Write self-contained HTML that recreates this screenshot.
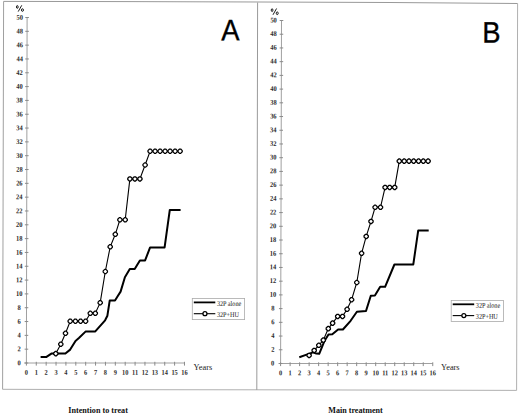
<!DOCTYPE html>
<html><head><meta charset="utf-8"><title>Figure</title>
<style>
html,body{margin:0;padding:0;background:#fff;}
body{width:520px;height:415px;overflow:hidden;}
svg{display:block;}
.frame{fill:none;stroke:#9a9a9a;stroke-width:1;}
.ax{stroke:#a0a0a0;stroke-width:1;}
.tk{stroke:#8a8a8a;stroke-width:1;}
.yl{font-family:"Liberation Serif", serif;font-weight:bold;font-size:7.2px;text-anchor:middle;fill:#2a2a2a;}
.xl{font-family:"Liberation Serif", serif;font-weight:bold;font-size:7.2px;text-anchor:middle;fill:#2a2a2a;}
.yrs{font-family:"Liberation Serif", serif;font-size:9px;fill:#222;}
.pct{fill:none;stroke:#111;stroke-width:0.95;}
.let{font-family:"Liberation Sans", sans-serif;font-size:29.5px;fill:#000;stroke:#000;stroke-width:0.35;}
.thick{fill:none;stroke:#000;stroke-width:2;stroke-linejoin:round;}
.lthick{stroke:#000;stroke-width:1.8;}
.thin{fill:none;stroke:#000;stroke-width:1.1;}
.mk{fill:#fff;stroke:#000;stroke-width:1.25;stroke-linejoin:round;}
.lg{fill:none;stroke:#aaa;stroke-width:0.8;}
.lt{font-family:"Liberation Serif", serif;font-size:7.2px;fill:#111;}
.cap{font-family:"Liberation Serif", serif;font-weight:bold;font-size:9px;fill:#111;}
</style></head>
<body>
<svg width="520" height="415" viewBox="0 0 520 415">
<rect x="0" y="0" width="520" height="415" fill="#fff"/>
<polyline points="3.6,1.4 130,1.6 260,2 390,2.5 517.6,3.5" class="frame" style="stroke:#999"/>
<polyline points="2.6,389.3 120,389.7 260,389.8 516.6,390.4" class="frame" style="stroke:#b0b0b0"/>
<line x1="3.6" y1="1.4" x2="2.6" y2="389.3" class="frame" style="stroke:#a0a0a0"/>
<line x1="517.6" y1="3.5" x2="516.6" y2="390.4" class="frame" style="stroke:#b0b0b0"/>
<line x1="257.6" y1="2.5" x2="256.8" y2="389.9" class="frame"/>
<line x1="27.1" y1="17.5" x2="26.4" y2="363" class="ax"/>
<line x1="24.4" y1="363" x2="184.48" y2="363" class="ax"/>
<line x1="24.6" y1="363" x2="28.2" y2="363" class="tk"/>
<text transform="translate(19 365.2) rotate(0.2) scale(0.9 1)" class="yl">0</text>
<line x1="24.63" y1="349.18" x2="28.23" y2="349.18" class="tk"/>
<text transform="translate(19.03 351.38) rotate(0.2) scale(0.9 1)" class="yl">2</text>
<line x1="24.66" y1="335.36" x2="28.26" y2="335.36" class="tk"/>
<text transform="translate(19.06 337.56) rotate(0.2) scale(0.9 1)" class="yl">4</text>
<line x1="24.68" y1="321.54" x2="28.28" y2="321.54" class="tk"/>
<text transform="translate(19.08 323.74) rotate(0.2) scale(0.9 1)" class="yl">6</text>
<line x1="24.71" y1="307.72" x2="28.31" y2="307.72" class="tk"/>
<text transform="translate(19.11 309.92) rotate(0.2) scale(0.9 1)" class="yl">8</text>
<line x1="24.74" y1="293.9" x2="28.34" y2="293.9" class="tk"/>
<text transform="translate(19.14 296.1) rotate(0.2) scale(0.9 1)" class="yl">10</text>
<line x1="24.77" y1="280.08" x2="28.37" y2="280.08" class="tk"/>
<text transform="translate(19.17 282.28) rotate(0.2) scale(0.9 1)" class="yl">12</text>
<line x1="24.8" y1="266.26" x2="28.4" y2="266.26" class="tk"/>
<text transform="translate(19.2 268.46) rotate(0.2) scale(0.9 1)" class="yl">14</text>
<line x1="24.82" y1="252.44" x2="28.42" y2="252.44" class="tk"/>
<text transform="translate(19.22 254.64) rotate(0.2) scale(0.9 1)" class="yl">16</text>
<line x1="24.85" y1="238.62" x2="28.45" y2="238.62" class="tk"/>
<text transform="translate(19.25 240.82) rotate(0.2) scale(0.9 1)" class="yl">18</text>
<line x1="24.88" y1="224.8" x2="28.48" y2="224.8" class="tk"/>
<text transform="translate(19.28 227) rotate(0.2) scale(0.9 1)" class="yl">20</text>
<line x1="24.91" y1="210.98" x2="28.51" y2="210.98" class="tk"/>
<text transform="translate(19.31 213.18) rotate(0.2) scale(0.9 1)" class="yl">22</text>
<line x1="24.94" y1="197.16" x2="28.54" y2="197.16" class="tk"/>
<text transform="translate(19.34 199.36) rotate(0.2) scale(0.9 1)" class="yl">24</text>
<line x1="24.96" y1="183.34" x2="28.56" y2="183.34" class="tk"/>
<text transform="translate(19.36 185.54) rotate(0.2) scale(0.9 1)" class="yl">26</text>
<line x1="24.99" y1="169.52" x2="28.59" y2="169.52" class="tk"/>
<text transform="translate(19.39 171.72) rotate(0.2) scale(0.9 1)" class="yl">28</text>
<line x1="25.02" y1="155.7" x2="28.62" y2="155.7" class="tk"/>
<text transform="translate(19.42 157.9) rotate(0.2) scale(0.9 1)" class="yl">30</text>
<line x1="25.05" y1="141.88" x2="28.65" y2="141.88" class="tk"/>
<text transform="translate(19.45 144.08) rotate(0.2) scale(0.9 1)" class="yl">32</text>
<line x1="25.08" y1="128.06" x2="28.68" y2="128.06" class="tk"/>
<text transform="translate(19.48 130.26) rotate(0.2) scale(0.9 1)" class="yl">34</text>
<line x1="25.1" y1="114.24" x2="28.7" y2="114.24" class="tk"/>
<text transform="translate(19.5 116.44) rotate(0.2) scale(0.9 1)" class="yl">36</text>
<line x1="25.13" y1="100.42" x2="28.73" y2="100.42" class="tk"/>
<text transform="translate(19.53 102.62) rotate(0.2) scale(0.9 1)" class="yl">38</text>
<line x1="25.16" y1="86.6" x2="28.76" y2="86.6" class="tk"/>
<text transform="translate(19.56 88.8) rotate(0.2) scale(0.9 1)" class="yl">40</text>
<line x1="25.19" y1="72.78" x2="28.79" y2="72.78" class="tk"/>
<text transform="translate(19.59 74.98) rotate(0.2) scale(0.9 1)" class="yl">42</text>
<line x1="25.22" y1="58.96" x2="28.82" y2="58.96" class="tk"/>
<text transform="translate(19.62 61.16) rotate(0.2) scale(0.9 1)" class="yl">44</text>
<line x1="25.24" y1="45.14" x2="28.84" y2="45.14" class="tk"/>
<text transform="translate(19.64 47.34) rotate(0.2) scale(0.9 1)" class="yl">46</text>
<line x1="25.27" y1="31.32" x2="28.87" y2="31.32" class="tk"/>
<text transform="translate(19.67 33.52) rotate(0.2) scale(0.9 1)" class="yl">48</text>
<line x1="25.3" y1="17.5" x2="28.9" y2="17.5" class="tk"/>
<text transform="translate(19.7 19.7) rotate(0.2) scale(0.9 1)" class="yl">50</text>
<line x1="26.4" y1="361.8" x2="26.4" y2="365.6" class="tk"/>
<text transform="translate(26.4 374.7) rotate(0.2) scale(0.88 1)" class="xl">0</text>
<line x1="36.28" y1="361.8" x2="36.28" y2="365.6" class="tk"/>
<text transform="translate(36.28 374.7) rotate(0.2) scale(0.88 1)" class="xl">1</text>
<line x1="46.16" y1="361.8" x2="46.16" y2="365.6" class="tk"/>
<text transform="translate(46.16 374.7) rotate(0.2) scale(0.88 1)" class="xl">2</text>
<line x1="56.04" y1="361.8" x2="56.04" y2="365.6" class="tk"/>
<text transform="translate(56.04 374.7) rotate(0.2) scale(0.88 1)" class="xl">3</text>
<line x1="65.92" y1="361.8" x2="65.92" y2="365.6" class="tk"/>
<text transform="translate(65.92 374.7) rotate(0.2) scale(0.88 1)" class="xl">4</text>
<line x1="75.8" y1="361.8" x2="75.8" y2="365.6" class="tk"/>
<text transform="translate(75.8 374.7) rotate(0.2) scale(0.88 1)" class="xl">5</text>
<line x1="85.68" y1="361.8" x2="85.68" y2="365.6" class="tk"/>
<text transform="translate(85.68 374.7) rotate(0.2) scale(0.88 1)" class="xl">6</text>
<line x1="95.56" y1="361.8" x2="95.56" y2="365.6" class="tk"/>
<text transform="translate(95.56 374.7) rotate(0.2) scale(0.88 1)" class="xl">7</text>
<line x1="105.44" y1="361.8" x2="105.44" y2="365.6" class="tk"/>
<text transform="translate(105.44 374.7) rotate(0.2) scale(0.88 1)" class="xl">8</text>
<line x1="115.32" y1="361.8" x2="115.32" y2="365.6" class="tk"/>
<text transform="translate(115.32 374.7) rotate(0.2) scale(0.88 1)" class="xl">9</text>
<line x1="125.2" y1="361.8" x2="125.2" y2="365.6" class="tk"/>
<text transform="translate(125.2 374.7) rotate(0.2) scale(0.88 1)" class="xl">10</text>
<line x1="135.08" y1="361.8" x2="135.08" y2="365.6" class="tk"/>
<text transform="translate(135.08 374.7) rotate(0.2) scale(0.88 1)" class="xl">11</text>
<line x1="144.96" y1="361.8" x2="144.96" y2="365.6" class="tk"/>
<text transform="translate(144.96 374.7) rotate(0.2) scale(0.88 1)" class="xl">12</text>
<line x1="154.84" y1="361.8" x2="154.84" y2="365.6" class="tk"/>
<text transform="translate(154.84 374.7) rotate(0.2) scale(0.88 1)" class="xl">13</text>
<line x1="164.72" y1="361.8" x2="164.72" y2="365.6" class="tk"/>
<text transform="translate(164.72 374.7) rotate(0.2) scale(0.88 1)" class="xl">14</text>
<line x1="174.6" y1="361.8" x2="174.6" y2="365.6" class="tk"/>
<text transform="translate(174.6 374.7) rotate(0.2) scale(0.88 1)" class="xl">15</text>
<line x1="184.48" y1="361.8" x2="184.48" y2="365.6" class="tk"/>
<text transform="translate(184.48 374.7) rotate(0.2) scale(0.88 1)" class="xl">16</text>
<text x="193.6" y="369.8" class="yrs" textLength="18.6" lengthAdjust="spacingAndGlyphs">Years</text>
<g transform="translate(16.1 5.1)" class="pct"><ellipse cx="1.2" cy="1.85" rx="0.85" ry="1.4"/><ellipse cx="6.35" cy="4.95" rx="1.0" ry="1.3"/><line x1="5.65" y1="0.2" x2="2.1" y2="6.5"/></g>
<text transform="translate(221.3 40.3) rotate(0.2) scale(0.93 1)" class="let">A</text>
<polyline points="40.6,356.9 46.5,356.9 51.4,353.6 65.4,353.5 70.2,349.6 75.5,340.9 78.9,338 85.5,331.6 95.3,331.4 105.1,320.3 107.4,315.7 109.7,300.6 115,300.5 117.8,296 120.6,291.6 124.9,277.2 129.8,269.1 134.7,269.1 139.9,260.4 145.1,260.4 150.1,247.4 164.6,247.4 169.8,209.9 180.6,209.9" class="thick"/>
<polyline points="55.8,353.6 60.8,344.2 65.5,333.3 70.2,321.2 75.4,321.2 80.6,321.2 85.6,321.2 90.3,313.3 95.3,313.3 100.2,302.7 105.3,271.5 110.2,246.8 115.3,234.3 119.9,219.8 125.2,219.8 129.9,178.9 134.9,178.9 139.9,178.9 145.1,165 150.1,151.2 155.1,151.2 160.1,151.2 165.1,151.2 170.1,151.2 175.1,151.2 180.1,151.2" class="thin"/>
<path d="M55.2 351.45L56.4 351.45L57.95 353L57.95 354.2L56.4 355.75L55.2 355.75L53.65 354.2L53.65 353Z" class="mk"/>
<path d="M60.2 342.05L61.4 342.05L62.95 343.6L62.95 344.8L61.4 346.35L60.2 346.35L58.65 344.8L58.65 343.6Z" class="mk"/>
<path d="M64.9 331.15L66.1 331.15L67.65 332.7L67.65 333.9L66.1 335.45L64.9 335.45L63.35 333.9L63.35 332.7Z" class="mk"/>
<path d="M69.6 319.05L70.8 319.05L72.35 320.6L72.35 321.8L70.8 323.35L69.6 323.35L68.05 321.8L68.05 320.6Z" class="mk"/>
<path d="M74.8 319.05L76 319.05L77.55 320.6L77.55 321.8L76 323.35L74.8 323.35L73.25 321.8L73.25 320.6Z" class="mk"/>
<path d="M80 319.05L81.2 319.05L82.75 320.6L82.75 321.8L81.2 323.35L80 323.35L78.45 321.8L78.45 320.6Z" class="mk"/>
<path d="M85 319.05L86.2 319.05L87.75 320.6L87.75 321.8L86.2 323.35L85 323.35L83.45 321.8L83.45 320.6Z" class="mk"/>
<path d="M89.7 311.15L90.9 311.15L92.45 312.7L92.45 313.9L90.9 315.45L89.7 315.45L88.15 313.9L88.15 312.7Z" class="mk"/>
<path d="M94.7 311.15L95.9 311.15L97.45 312.7L97.45 313.9L95.9 315.45L94.7 315.45L93.15 313.9L93.15 312.7Z" class="mk"/>
<path d="M99.6 300.55L100.8 300.55L102.35 302.1L102.35 303.3L100.8 304.85L99.6 304.85L98.05 303.3L98.05 302.1Z" class="mk"/>
<path d="M104.7 269.35L105.9 269.35L107.45 270.9L107.45 272.1L105.9 273.65L104.7 273.65L103.15 272.1L103.15 270.9Z" class="mk"/>
<path d="M109.6 244.65L110.8 244.65L112.35 246.2L112.35 247.4L110.8 248.95L109.6 248.95L108.05 247.4L108.05 246.2Z" class="mk"/>
<path d="M114.7 232.15L115.9 232.15L117.45 233.7L117.45 234.9L115.9 236.45L114.7 236.45L113.15 234.9L113.15 233.7Z" class="mk"/>
<path d="M119.3 217.65L120.5 217.65L122.05 219.2L122.05 220.4L120.5 221.95L119.3 221.95L117.75 220.4L117.75 219.2Z" class="mk"/>
<path d="M124.6 217.65L125.8 217.65L127.35 219.2L127.35 220.4L125.8 221.95L124.6 221.95L123.05 220.4L123.05 219.2Z" class="mk"/>
<path d="M129.3 176.75L130.5 176.75L132.05 178.3L132.05 179.5L130.5 181.05L129.3 181.05L127.75 179.5L127.75 178.3Z" class="mk"/>
<path d="M134.3 176.75L135.5 176.75L137.05 178.3L137.05 179.5L135.5 181.05L134.3 181.05L132.75 179.5L132.75 178.3Z" class="mk"/>
<path d="M139.3 176.75L140.5 176.75L142.05 178.3L142.05 179.5L140.5 181.05L139.3 181.05L137.75 179.5L137.75 178.3Z" class="mk"/>
<path d="M144.5 162.85L145.7 162.85L147.25 164.4L147.25 165.6L145.7 167.15L144.5 167.15L142.95 165.6L142.95 164.4Z" class="mk"/>
<path d="M149.5 149.05L150.7 149.05L152.25 150.6L152.25 151.8L150.7 153.35L149.5 153.35L147.95 151.8L147.95 150.6Z" class="mk"/>
<path d="M154.5 149.05L155.7 149.05L157.25 150.6L157.25 151.8L155.7 153.35L154.5 153.35L152.95 151.8L152.95 150.6Z" class="mk"/>
<path d="M159.5 149.05L160.7 149.05L162.25 150.6L162.25 151.8L160.7 153.35L159.5 153.35L157.95 151.8L157.95 150.6Z" class="mk"/>
<path d="M164.5 149.05L165.7 149.05L167.25 150.6L167.25 151.8L165.7 153.35L164.5 153.35L162.95 151.8L162.95 150.6Z" class="mk"/>
<path d="M169.5 149.05L170.7 149.05L172.25 150.6L172.25 151.8L170.7 153.35L169.5 153.35L167.95 151.8L167.95 150.6Z" class="mk"/>
<path d="M174.5 149.05L175.7 149.05L177.25 150.6L177.25 151.8L175.7 153.35L174.5 153.35L172.95 151.8L172.95 150.6Z" class="mk"/>
<path d="M179.5 149.05L180.7 149.05L182.25 150.6L182.25 151.8L180.7 153.35L179.5 153.35L177.95 151.8L177.95 150.6Z" class="mk"/>
<rect x="192.3" y="298.5" width="52.3" height="21.1" class="lg"/>
<line x1="193.8" y1="302.4" x2="215.3" y2="302.4" class="lthick"/>
<line x1="193.8" y1="313.7" x2="215.3" y2="313.7" class="thin"/>
<circle cx="204.95" cy="313.7" r="2.0" class="mk"/>
<text transform="translate(216.9 305.9) rotate(0.2) scale(0.86 1)" class="lt">32P alone</text>
<text transform="translate(216.9 316.9) rotate(0.2) scale(0.86 1)" class="lt">32P+HU</text>
<text x="68.3" y="413.4" class="cap" textLength="59.6" lengthAdjust="spacingAndGlyphs">Intention to treat</text>
<line x1="281.5" y1="20.5" x2="280.6" y2="363.5" class="ax"/>
<line x1="278.6" y1="363.5" x2="432.76" y2="363.5" class="ax"/>
<line x1="278.8" y1="363.5" x2="282.4" y2="363.5" class="tk"/>
<text transform="translate(272.7 365.4) rotate(0.2) scale(0.9 1)" class="yl">0</text>
<line x1="278.84" y1="349.78" x2="282.44" y2="349.78" class="tk"/>
<text transform="translate(272.74 351.68) rotate(0.2) scale(0.9 1)" class="yl">2</text>
<line x1="278.87" y1="336.06" x2="282.47" y2="336.06" class="tk"/>
<text transform="translate(272.77 337.96) rotate(0.2) scale(0.9 1)" class="yl">4</text>
<line x1="278.91" y1="322.34" x2="282.51" y2="322.34" class="tk"/>
<text transform="translate(272.81 324.24) rotate(0.2) scale(0.9 1)" class="yl">6</text>
<line x1="278.94" y1="308.62" x2="282.54" y2="308.62" class="tk"/>
<text transform="translate(272.84 310.52) rotate(0.2) scale(0.9 1)" class="yl">8</text>
<line x1="278.98" y1="294.9" x2="282.58" y2="294.9" class="tk"/>
<text transform="translate(272.88 296.8) rotate(0.2) scale(0.9 1)" class="yl">10</text>
<line x1="279.02" y1="281.18" x2="282.62" y2="281.18" class="tk"/>
<text transform="translate(272.92 283.08) rotate(0.2) scale(0.9 1)" class="yl">12</text>
<line x1="279.05" y1="267.46" x2="282.65" y2="267.46" class="tk"/>
<text transform="translate(272.95 269.36) rotate(0.2) scale(0.9 1)" class="yl">14</text>
<line x1="279.09" y1="253.74" x2="282.69" y2="253.74" class="tk"/>
<text transform="translate(272.99 255.64) rotate(0.2) scale(0.9 1)" class="yl">16</text>
<line x1="279.12" y1="240.02" x2="282.72" y2="240.02" class="tk"/>
<text transform="translate(273.02 241.92) rotate(0.2) scale(0.9 1)" class="yl">18</text>
<line x1="279.16" y1="226.3" x2="282.76" y2="226.3" class="tk"/>
<text transform="translate(273.06 228.2) rotate(0.2) scale(0.9 1)" class="yl">20</text>
<line x1="279.2" y1="212.58" x2="282.8" y2="212.58" class="tk"/>
<text transform="translate(273.1 214.48) rotate(0.2) scale(0.9 1)" class="yl">22</text>
<line x1="279.23" y1="198.86" x2="282.83" y2="198.86" class="tk"/>
<text transform="translate(273.13 200.76) rotate(0.2) scale(0.9 1)" class="yl">24</text>
<line x1="279.27" y1="185.14" x2="282.87" y2="185.14" class="tk"/>
<text transform="translate(273.17 187.04) rotate(0.2) scale(0.9 1)" class="yl">26</text>
<line x1="279.3" y1="171.42" x2="282.9" y2="171.42" class="tk"/>
<text transform="translate(273.2 173.32) rotate(0.2) scale(0.9 1)" class="yl">28</text>
<line x1="279.34" y1="157.7" x2="282.94" y2="157.7" class="tk"/>
<text transform="translate(273.24 159.6) rotate(0.2) scale(0.9 1)" class="yl">30</text>
<line x1="279.38" y1="143.98" x2="282.98" y2="143.98" class="tk"/>
<text transform="translate(273.28 145.88) rotate(0.2) scale(0.9 1)" class="yl">32</text>
<line x1="279.41" y1="130.26" x2="283.01" y2="130.26" class="tk"/>
<text transform="translate(273.31 132.16) rotate(0.2) scale(0.9 1)" class="yl">34</text>
<line x1="279.45" y1="116.54" x2="283.05" y2="116.54" class="tk"/>
<text transform="translate(273.35 118.44) rotate(0.2) scale(0.9 1)" class="yl">36</text>
<line x1="279.48" y1="102.82" x2="283.08" y2="102.82" class="tk"/>
<text transform="translate(273.38 104.72) rotate(0.2) scale(0.9 1)" class="yl">38</text>
<line x1="279.52" y1="89.1" x2="283.12" y2="89.1" class="tk"/>
<text transform="translate(273.42 91) rotate(0.2) scale(0.9 1)" class="yl">40</text>
<line x1="279.56" y1="75.38" x2="283.16" y2="75.38" class="tk"/>
<text transform="translate(273.46 77.28) rotate(0.2) scale(0.9 1)" class="yl">42</text>
<line x1="279.59" y1="61.66" x2="283.19" y2="61.66" class="tk"/>
<text transform="translate(273.49 63.56) rotate(0.2) scale(0.9 1)" class="yl">44</text>
<line x1="279.63" y1="47.94" x2="283.23" y2="47.94" class="tk"/>
<text transform="translate(273.53 49.84) rotate(0.2) scale(0.9 1)" class="yl">46</text>
<line x1="279.66" y1="34.22" x2="283.26" y2="34.22" class="tk"/>
<text transform="translate(273.56 36.12) rotate(0.2) scale(0.9 1)" class="yl">48</text>
<line x1="279.7" y1="20.5" x2="283.3" y2="20.5" class="tk"/>
<text transform="translate(273.6 22.4) rotate(0.2) scale(0.9 1)" class="yl">50</text>
<line x1="280.6" y1="362.3" x2="280.6" y2="366.1" class="tk"/>
<text transform="translate(280.6 375.2) rotate(0.2) scale(0.88 1)" class="xl">0</text>
<line x1="290.11" y1="362.3" x2="290.11" y2="366.1" class="tk"/>
<text transform="translate(290.11 375.2) rotate(0.2) scale(0.88 1)" class="xl">1</text>
<line x1="299.62" y1="362.3" x2="299.62" y2="366.1" class="tk"/>
<text transform="translate(299.62 375.2) rotate(0.2) scale(0.88 1)" class="xl">2</text>
<line x1="309.13" y1="362.3" x2="309.13" y2="366.1" class="tk"/>
<text transform="translate(309.13 375.2) rotate(0.2) scale(0.88 1)" class="xl">3</text>
<line x1="318.64" y1="362.3" x2="318.64" y2="366.1" class="tk"/>
<text transform="translate(318.64 375.2) rotate(0.2) scale(0.88 1)" class="xl">4</text>
<line x1="328.15" y1="362.3" x2="328.15" y2="366.1" class="tk"/>
<text transform="translate(328.15 375.2) rotate(0.2) scale(0.88 1)" class="xl">5</text>
<line x1="337.66" y1="362.3" x2="337.66" y2="366.1" class="tk"/>
<text transform="translate(337.66 375.2) rotate(0.2) scale(0.88 1)" class="xl">6</text>
<line x1="347.17" y1="362.3" x2="347.17" y2="366.1" class="tk"/>
<text transform="translate(347.17 375.2) rotate(0.2) scale(0.88 1)" class="xl">7</text>
<line x1="356.68" y1="362.3" x2="356.68" y2="366.1" class="tk"/>
<text transform="translate(356.68 375.2) rotate(0.2) scale(0.88 1)" class="xl">8</text>
<line x1="366.19" y1="362.3" x2="366.19" y2="366.1" class="tk"/>
<text transform="translate(366.19 375.2) rotate(0.2) scale(0.88 1)" class="xl">9</text>
<line x1="375.7" y1="362.3" x2="375.7" y2="366.1" class="tk"/>
<text transform="translate(375.7 375.2) rotate(0.2) scale(0.88 1)" class="xl">10</text>
<line x1="385.21" y1="362.3" x2="385.21" y2="366.1" class="tk"/>
<text transform="translate(385.21 375.2) rotate(0.2) scale(0.88 1)" class="xl">11</text>
<line x1="394.72" y1="362.3" x2="394.72" y2="366.1" class="tk"/>
<text transform="translate(394.72 375.2) rotate(0.2) scale(0.88 1)" class="xl">12</text>
<line x1="404.23" y1="362.3" x2="404.23" y2="366.1" class="tk"/>
<text transform="translate(404.23 375.2) rotate(0.2) scale(0.88 1)" class="xl">13</text>
<line x1="413.74" y1="362.3" x2="413.74" y2="366.1" class="tk"/>
<text transform="translate(413.74 375.2) rotate(0.2) scale(0.88 1)" class="xl">14</text>
<line x1="423.25" y1="362.3" x2="423.25" y2="366.1" class="tk"/>
<text transform="translate(423.25 375.2) rotate(0.2) scale(0.88 1)" class="xl">15</text>
<line x1="432.76" y1="362.3" x2="432.76" y2="366.1" class="tk"/>
<text transform="translate(432.76 375.2) rotate(0.2) scale(0.88 1)" class="xl">16</text>
<text x="441" y="370.4" class="yrs" textLength="18.6" lengthAdjust="spacingAndGlyphs">Years</text>
<g transform="translate(270.9 8.3)" class="pct"><ellipse cx="1.2" cy="1.85" rx="0.85" ry="1.4"/><ellipse cx="6.35" cy="4.95" rx="1.0" ry="1.3"/><line x1="5.65" y1="0.2" x2="2.1" y2="6.5"/></g>
<text transform="translate(482.2 42.5) rotate(0.2) scale(0.93 1)" class="let">B</text>
<polyline points="299.3,357.2 307.3,354.4 313,352.4 316.3,353.6 319.2,353.8 324.6,340.7 328.5,334.5 332.3,334.2 338.1,329.4 342.9,329.5 350.6,320.8 356.9,311.7 366,311 370.8,295.8 374.9,295.6 380.2,286.8 385.1,286.8 394.4,264.5 413.3,264.4 418.2,230.6 428.7,230.6" class="thick"/>
<polyline points="309.1,355.4 314.2,350.4 318.8,345.3 323.3,340.1 328.3,328.6 332.6,323.1 337.7,316.4 342.5,316.4 347.1,309.3 351.6,299.7 356.8,282.5 361.6,253.3 366.2,236.4 371,221.4 375.1,207.3 380.5,207.3 385.1,187.4 389.7,187.4 394.7,187.4 399.3,161.1 404.2,161.1 409,161.1 413.7,161.1 418.6,161.1 423.3,161.1 428.1,161.1" class="thin"/>
<path d="M308.5 353.25L309.7 353.25L311.25 354.8L311.25 356L309.7 357.55L308.5 357.55L306.95 356L306.95 354.8Z" class="mk"/>
<path d="M313.6 348.25L314.8 348.25L316.35 349.8L316.35 351L314.8 352.55L313.6 352.55L312.05 351L312.05 349.8Z" class="mk"/>
<path d="M318.2 343.15L319.4 343.15L320.95 344.7L320.95 345.9L319.4 347.45L318.2 347.45L316.65 345.9L316.65 344.7Z" class="mk"/>
<path d="M322.7 337.95L323.9 337.95L325.45 339.5L325.45 340.7L323.9 342.25L322.7 342.25L321.15 340.7L321.15 339.5Z" class="mk"/>
<path d="M327.7 326.45L328.9 326.45L330.45 328L330.45 329.2L328.9 330.75L327.7 330.75L326.15 329.2L326.15 328Z" class="mk"/>
<path d="M332 320.95L333.2 320.95L334.75 322.5L334.75 323.7L333.2 325.25L332 325.25L330.45 323.7L330.45 322.5Z" class="mk"/>
<path d="M337.1 314.25L338.3 314.25L339.85 315.8L339.85 317L338.3 318.55L337.1 318.55L335.55 317L335.55 315.8Z" class="mk"/>
<path d="M341.9 314.25L343.1 314.25L344.65 315.8L344.65 317L343.1 318.55L341.9 318.55L340.35 317L340.35 315.8Z" class="mk"/>
<path d="M346.5 307.15L347.7 307.15L349.25 308.7L349.25 309.9L347.7 311.45L346.5 311.45L344.95 309.9L344.95 308.7Z" class="mk"/>
<path d="M351 297.55L352.2 297.55L353.75 299.1L353.75 300.3L352.2 301.85L351 301.85L349.45 300.3L349.45 299.1Z" class="mk"/>
<path d="M356.2 280.35L357.4 280.35L358.95 281.9L358.95 283.1L357.4 284.65L356.2 284.65L354.65 283.1L354.65 281.9Z" class="mk"/>
<path d="M361 251.15L362.2 251.15L363.75 252.7L363.75 253.9L362.2 255.45L361 255.45L359.45 253.9L359.45 252.7Z" class="mk"/>
<path d="M365.6 234.25L366.8 234.25L368.35 235.8L368.35 237L366.8 238.55L365.6 238.55L364.05 237L364.05 235.8Z" class="mk"/>
<path d="M370.4 219.25L371.6 219.25L373.15 220.8L373.15 222L371.6 223.55L370.4 223.55L368.85 222L368.85 220.8Z" class="mk"/>
<path d="M374.5 205.15L375.7 205.15L377.25 206.7L377.25 207.9L375.7 209.45L374.5 209.45L372.95 207.9L372.95 206.7Z" class="mk"/>
<path d="M379.9 205.15L381.1 205.15L382.65 206.7L382.65 207.9L381.1 209.45L379.9 209.45L378.35 207.9L378.35 206.7Z" class="mk"/>
<path d="M384.5 185.25L385.7 185.25L387.25 186.8L387.25 188L385.7 189.55L384.5 189.55L382.95 188L382.95 186.8Z" class="mk"/>
<path d="M389.1 185.25L390.3 185.25L391.85 186.8L391.85 188L390.3 189.55L389.1 189.55L387.55 188L387.55 186.8Z" class="mk"/>
<path d="M394.1 185.25L395.3 185.25L396.85 186.8L396.85 188L395.3 189.55L394.1 189.55L392.55 188L392.55 186.8Z" class="mk"/>
<path d="M398.7 158.95L399.9 158.95L401.45 160.5L401.45 161.7L399.9 163.25L398.7 163.25L397.15 161.7L397.15 160.5Z" class="mk"/>
<path d="M403.6 158.95L404.8 158.95L406.35 160.5L406.35 161.7L404.8 163.25L403.6 163.25L402.05 161.7L402.05 160.5Z" class="mk"/>
<path d="M408.4 158.95L409.6 158.95L411.15 160.5L411.15 161.7L409.6 163.25L408.4 163.25L406.85 161.7L406.85 160.5Z" class="mk"/>
<path d="M413.1 158.95L414.3 158.95L415.85 160.5L415.85 161.7L414.3 163.25L413.1 163.25L411.55 161.7L411.55 160.5Z" class="mk"/>
<path d="M418 158.95L419.2 158.95L420.75 160.5L420.75 161.7L419.2 163.25L418 163.25L416.45 161.7L416.45 160.5Z" class="mk"/>
<path d="M422.7 158.95L423.9 158.95L425.45 160.5L425.45 161.7L423.9 163.25L422.7 163.25L421.15 161.7L421.15 160.5Z" class="mk"/>
<path d="M427.5 158.95L428.7 158.95L430.25 160.5L430.25 161.7L428.7 163.25L427.5 163.25L425.95 161.7L425.95 160.5Z" class="mk"/>
<rect x="451.2" y="300.4" width="52.3" height="21.1" class="lg"/>
<line x1="452.7" y1="304.3" x2="474.2" y2="304.3" class="lthick"/>
<line x1="452.7" y1="315.6" x2="474.2" y2="315.6" class="thin"/>
<circle cx="463.85" cy="315.6" r="2.0" class="mk"/>
<text transform="translate(475.8 307.8) rotate(0.2) scale(0.86 1)" class="lt">32P alone</text>
<text transform="translate(475.8 318.8) rotate(0.2) scale(0.86 1)" class="lt">32P+HU</text>
<text x="328.3" y="413.4" class="cap" textLength="54.4" lengthAdjust="spacingAndGlyphs">Main treatment</text>
</svg>
</body></html>
